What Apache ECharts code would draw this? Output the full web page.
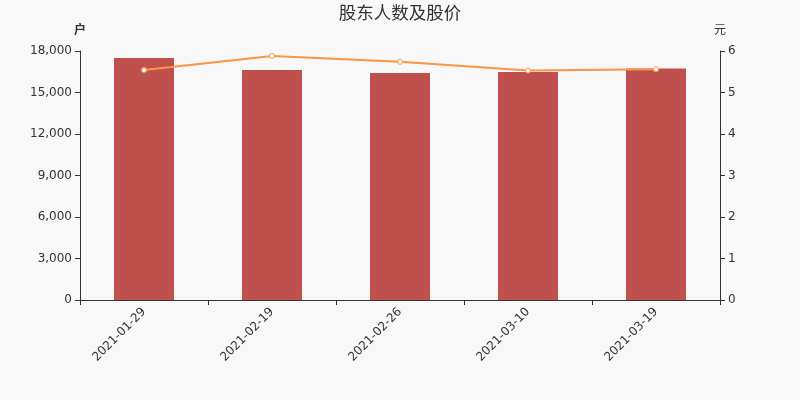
<!DOCTYPE html>
<html>
	<head>
		<meta charset="UTF-8">
		<title>股东人数及股价</title>
		<script src="https://cdn.jsdelivr.net/npm/echarts@6/dist/echarts.min.js"></script>
		<style>
			html, body { margin: 0; padding: 0; background: #f8f8f8; }
			#main { width: 800px; height: 400px; }
		</style>
	</head>
	<body>
		<div id="main"></div>
		<script type="text/javascript">
			// 数据
			var dates = ['2021-01-29', '2021-02-19', '2021-02-26', '2021-03-10', '2021-03-19'];
			var holders = [17490, 16630, 16410, 16480, 16740];
			var prices = [5.54, 5.88, 5.74, 5.53, 5.56];

			var myChart = echarts.init(document.getElementById('main'));
			var font = '"DejaVu Sans", "Noto Sans CJK SC", sans-serif';
			var option = {
				backgroundColor: '#f8f8f8',
				textStyle: { fontFamily: font },
				title: {
					text: '股东人数及股价',
					left: 'center',
					top: 1,
					textStyle: { fontSize: 17.5, fontWeight: 'normal', color: '#333', fontFamily: font }
				},
				grid: { left: 80, right: 80, top: 51, bottom: 100 },
				xAxis: {
					type: 'category',
					data: dates,
					axisLine: { lineStyle: { color: '#333' } },
					axisTick: { show: true },
					axisLabel: { rotate: 45, color: '#333', fontSize: 12, margin: 10 }
				},
				yAxis: [
					{
						type: 'value',
						name: '户',
						min: 0, max: 18000, interval: 3000,
						nameGap: 14,
						nameTextStyle: { color: '#333', fontWeight: 'bold', align: 'center' },
						axisLine: { show: true, lineStyle: { color: '#333' } },
						axisTick: { show: true },
						splitLine: { show: false },
						axisLabel: {
							color: '#333',
							formatter: function (v) { return v.toLocaleString('en-US'); }
						}
					},
					{
						type: 'value',
						name: '元',
						min: 0, max: 6, interval: 1,
						nameGap: 14,
						nameTextStyle: { color: '#333', align: 'center' },
						axisLine: { show: true, lineStyle: { color: '#333' } },
						axisTick: { show: true },
						splitLine: { show: false },
						axisLabel: { color: '#333' }
					}
				],
				series: [
					{
						name: '股东人数',
						type: 'bar',
						barWidth: 60,
						itemStyle: { color: '#c0504d' },
						data: holders
					},
					{
						name: '股价',
						type: 'line',
						yAxisIndex: 1,
						symbol: 'circle',
						symbolSize: 5,
						itemStyle: { color: '#fff', borderColor: '#f79646', borderWidth: 1 },
						lineStyle: { color: '#f79646', width: 2 },
						data: prices
					}
				]
			};
			myChart.setOption(option);
		</script>
	</body>
</html>
